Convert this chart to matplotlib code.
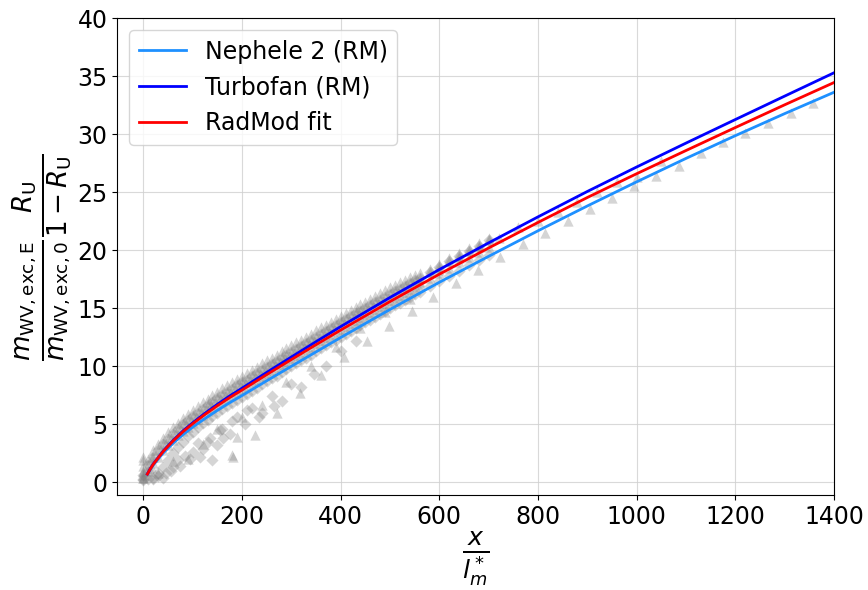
import matplotlib.pyplot as plt

# fitted curves
curve_x = [8, 14, 20, 30, 40, 50, 60, 80, 100, 125, 150, 175, 200, 250, 300, 350, 400, 500,
           600, 700, 800, 900, 1000, 1100, 1200, 1300, 1400]
nephele_y = [0.68, 1.1, 1.48, 2.0, 2.52, 2.94, 3.36, 4.1, 4.76, 5.5, 6.2, 6.86, 7.48, 8.75,
             10.0, 11.24, 12.48, 14.9, 17.24, 19.48, 21.68, 23.82, 25.9, 27.92, 29.88, 31.78, 33.62]
turbofan_y = [0.72, 1.17, 1.58, 2.13, 2.69, 3.15, 3.6, 4.42, 5.13, 5.95, 6.72, 7.44, 8.11, 9.47,
              10.8, 12.12, 13.42, 15.93, 18.34, 20.64, 22.88, 25.07, 27.18, 29.24, 31.27, 33.29, 35.3]
radmod_y = [0.7, 1.15, 1.55, 2.1, 2.65, 3.1, 3.55, 4.35, 5.05, 5.85, 6.6, 7.3, 7.95, 9.28,
            10.58, 11.86, 13.12, 15.58, 17.94, 20.2, 22.4, 24.55, 26.6, 28.6, 30.58, 32.54, 34.46]

# dense band of measurements (rows through the band)
band_x = [0, 10, 20, 30, 40, 50, 60, 70, 80, 90, 100, 110, 120, 130, 140, 150, 160, 170, 180,
          190, 200, 210, 220, 230, 240, 250, 260, 270, 280, 290, 300, 310, 320, 330, 340, 350,
          360, 370, 380, 390, 400, 410, 420, 430, 440, 450, 460, 470, 480, 490, 500, 510, 520,
          530, 540, 550, 560, 580, 600, 620, 640, 660, 680, 700]
band_top = [1.0, 2.0, 2.75, 3.3, 3.85, 4.3, 4.75, 5.15, 5.55, 5.9, 6.25, 6.55, 6.9, 7.2, 7.5,
            7.8, 8.1, 8.35, 8.6, 8.9, 9.15, 9.4, 9.7, 9.95, 10.25, 10.5, 10.75, 11.0, 11.3,
            11.55, 11.8, 12.05, 12.3, 12.55, 12.8, 13.1, 13.35, 13.6, 13.85, 14.1, 14.35, 14.6,
            14.85, 15.1, 15.35, 15.55, 15.8, 16.05, 16.3, 16.55, 16.8, 17.0, 17.25, 17.45, 17.7,
            17.9, 18.0, 18.4, 18.85, 19.3, 19.75, 20.2, 20.65, 21.1]
band_upper = [0.6, 1.5, 2.2, 2.75, 3.3, 3.75, 4.2, 4.6, 5.0, 5.35, 5.7, 6.0, 6.35, 6.65, 6.95,
              7.25, 7.55, 7.8, 8.05, 8.35, 8.6, 8.85, 9.15, 9.4, 9.7, 9.95, 10.2, 10.45, 10.75,
              11.0, 11.25, 11.5, 11.75, 12.0, 12.25, 12.55, 12.8, 13.05, 13.3, 13.55, 13.8,
              14.05, 14.3, 14.55, 14.8, 15.05, 15.25, 15.5, 15.75, 16.0, 16.25, 16.5, 16.7,
              16.95, 17.2, 17.4, 17.65, 18.1, 18.6, 19.05, 19.5, 19.95, 20.4, 20.85]
band_mid = [0.35, 0.95, 1.65, 2.2, 2.75, 3.2, 3.65, 4.05, 4.45, 4.8, 5.15, 5.45, 5.8, 6.1, 6.4,
            6.7, 7.0, 7.25, 7.5, 7.8, 8.05, 8.3, 8.6, 8.85, 9.15, 9.4, 9.65, 9.9, 10.2, 10.45,
            10.7, 10.95, 11.2, 11.45, 11.7, 12.0, 12.25, 12.5, 12.75, 13.0, 13.25, 13.5, 13.75,
            14.0, 14.25, 14.5, 14.7, 14.95, 15.2, 15.45, 15.7, 15.95, 16.15, 16.4, 16.65, 16.9,
            17.1, 17.6, 18.05, 18.5, 18.95, 19.4, 19.85, 20.3]
band_low = [0.2, 0.25, 0.4, 0.8, 1.3, 1.9, 2.5, 3.0, 3.5, 3.95, 4.35, 4.75, 5.1, 5.4, 5.7, 6.0,
            6.3, 6.55, 6.8, 7.1, 7.35, 7.6, 7.9, 8.15, 8.45, 8.7, 8.95, 9.2, 9.5, 9.75, 10.0,
            10.25, 10.5, 10.75, 11.0, 11.3, 11.55, 11.8, 12.05, 12.3, 12.55, 12.8, 13.05, 13.3,
            13.55, 13.8, 14.0, 14.25, 14.5, 14.75, 15.0, 15.25, 15.45, 15.7, 15.95, 16.2, 16.4,
            16.9, 17.35, 17.8, 18.25, 18.7, 19.15, 19.6]

# scattered diamonds below the band
diam_x = [0, 10, 20, 30, 40, 45, 55, 60, 70, 75, 85, 95, 100, 110, 115, 120, 130, 135, 139,
          150, 155, 160, 162, 175, 180, 190, 205, 210, 220, 235, 240, 260, 265, 280, 300, 320,
          345, 370, 400, 430]
diam_y = [0.3, 0.9, 0.3, 0.5, 0.4, 0.8, 1.0, 1.3, 1.9, 1.4, 2.3, 2.0, 2.6, 3.4, 2.2, 2.9, 3.5,
          3.8, 1.9, 3.2, 4.5, 4.6, 3.8, 4.2, 5.3, 5.6, 5.0, 6.2, 6.4, 5.6, 6.0, 7.4, 6.6, 7.0, 8.5,
          8.2, 9.3, 10.0, 11.3, 12.2]

# scattered triangles
tri_x = [0, 0, 0, 0, 0, 17, 17, 30, 60, 90, 120, 150, 182, 189, 200, 240, 290, 340, 390,
         440, 490, 540]
tri_y = [0.4, 0.9, 1.4, 1.9, 2.2, 1.2, 2.2, 0.8, 1.8, 2.0, 3.3, 4.6, 2.2, 3.9, 5.6, 6.7, 8.6,
         10.0, 11.7, 13.3, 14.7, 15.8]
tri_low_x = [179, 227, 270, 317, 361, 407, 453, 498, 544, 588, 634, 679, 722, 770, 814, 860,
             905, 949, 995, 1040, 1086, 1131, 1175, 1220, 1266, 1312, 1358]
tri_low_y = [2.35, 4.1, 5.95, 7.67, 9.25, 10.8, 12.2, 13.5, 14.8, 16.0, 17.2, 18.3, 19.45,
             20.5, 21.5, 22.55, 23.55, 24.5, 25.55, 26.4, 27.3, 28.35, 29.3, 30.1, 31.0, 31.8,
             32.7]
tri_line_x = [560, 600, 640, 680, 720, 760, 800, 840, 880, 920, 960, 1000, 1050]
tri_line_y = [17.3, 18.3, 19.3, 20.3, 21.1, 22.0, 22.5, 23.3, 24.2, 25.0, 25.9, 26.3, 27.7]


def main() -> None:
    plt.rcParams["font.family"] = "DejaVu Sans"
    fig = plt.figure(figsize=(8.68, 5.9), dpi=100)
    ax = fig.add_axes([0.1351, 0.161, 0.8257, 0.808])

    tri_kw = dict(color="gray", alpha=0.33, s=55, linewidths=0, marker="^", zorder=2)
    dia_kw = dict(color="gray", alpha=0.33, s=38, linewidths=0, marker="D", zorder=2)
    ax.scatter(band_x, band_top, **tri_kw)
    ax.scatter(band_x, band_upper, **dia_kw)
    ax.scatter(band_x, band_upper, **tri_kw)
    ax.scatter(band_x, band_mid, **tri_kw)
    ax.scatter(band_x, band_low, **dia_kw)
    ax.scatter(diam_x, diam_y, **dia_kw)
    ax.scatter(tri_x, tri_y, **tri_kw)
    ax.scatter(tri_low_x, tri_low_y, **tri_kw)
    ax.scatter(tri_line_x, tri_line_y, **tri_kw)

    ax.plot(curve_x, nephele_y, color="dodgerblue", linewidth=2, label="Nephele 2 (RM)", zorder=3)
    ax.plot(curve_x, turbofan_y, color="blue", linewidth=2, label="Turbofan (RM)", zorder=3)
    ax.plot(curve_x, radmod_y, color="red", linewidth=2, label="RadMod fit", zorder=4)

    ax.set_xlim(-53, 1400)
    ax.set_ylim(-1.1, 40)
    ax.set_xticks(range(0, 1401, 200))
    ax.set_yticks(range(0, 41, 5))
    ax.tick_params(labelsize=17)
    ax.grid(True, color="#d0d0d0", linewidth=0.8, alpha=0.8)
    ax.set_axisbelow(True)

    ax.set_xlabel(r"$\frac{x}{l_m^*}$", fontsize=26, labelpad=0)
    ax.set_ylabel(r"$\frac{m_\mathrm{WV,exc,E}}{m_\mathrm{WV,exc,0}}\frac{R_\mathrm{U}}{1-R_\mathrm{U}}$",
                  fontsize=27, labelpad=2)
    ax.legend(loc="upper left", fontsize=17)

    fig.savefig("out.png", dpi=100)
    plt.close(fig)


if __name__ == "__main__":
    main()
